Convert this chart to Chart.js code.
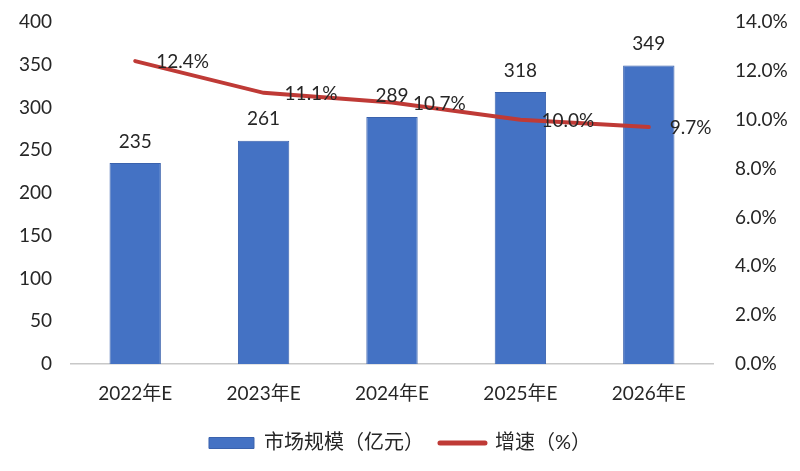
<!DOCTYPE html>
<html><head><meta charset="utf-8">
<script src="https://cdn.jsdelivr.net/npm/chart.js@4"></script>
<style>html,body{margin:0;padding:0;background:#fff}#wrap{width:800px;height:471px}</style>
</head><body><div id="wrap"><canvas id="c" width="800" height="471"></canvas></div>
<script>
const categories = ['2022年E','2023年E','2024年E','2025年E','2026年E'];
const marketSize = [235, 261, 289, 318, 349];
const growthRate = [12.4, 11.1, 10.7, 10.0, 9.7];
const leftTicks = [0,50,100,150,200,250,300,350,400];
const rightTicks = [0,2,4,6,8,10,12,14];

const FONT = "Lato, 'Noto Sans CJK SC', sans-serif";
const TXT = '#262626';

const labelPlugin = {
  id: 'labels',
  afterDatasetsDraw(chart) {
    const ctx = chart.ctx;
    ctx.save();
    ctx.font = '19px ' + FONT;
    ctx.fillStyle = TXT;
    const m0 = chart.getDatasetMeta(0);
    m0.data.forEach((el, i) => {
      ctx.textAlign = 'center'; ctx.textBaseline = 'bottom';
      ctx.fillText(String(marketSize[i]), el.x, el.y - 12);
    });
    const m1 = chart.getDatasetMeta(1);
    m1.data.forEach((el, i) => {
      ctx.textAlign = 'left'; ctx.textBaseline = 'middle';
      ctx.fillText(growthRate[i].toFixed(1) + '%', el.x + 21, el.y + 1);
    });
    ctx.restore();
  }
};

function noPad(s) { s.paddingTop = 0; s.paddingBottom = 0; }

new Chart(document.getElementById('c'), {
  data: {
    labels: categories,
    datasets: [
      { type: 'bar', label: '市场规模（亿元）', data: marketSize, yAxisID: 'y',
        backgroundColor: '#4472C4', borderColor: '#3A62AD', borderWidth: 1,
        barPercentage: 0.4, categoryPercentage: 1.0, order: 2 },
      { type: 'line', label: '增速（%）', data: growthRate, yAxisID: 'y1',
        borderColor: '#BF3A36', backgroundColor: '#BF3A36', borderWidth: 4,
        pointRadius: 0, tension: 0, order: 1, borderCapStyle: 'round' }
    ]
  },
  options: {
    responsive: false, animation: false,
    layout: { padding: { top: 22, bottom: 8, left: 0, right: 0 } },
    plugins: {
      tooltip: { enabled: false },
      legend: {
        position: 'bottom',
        labels: {
          font: { size: 20, family: FONT }, color: TXT, padding: 16,
          usePointStyle: true, pointStyleWidth: 45, boxHeight: 11,
          generateLabels(chart) {
            return chart.data.datasets.map((ds, i) => ds.type === 'line' ? ({
              text: ds.label, fillStyle: ds.borderColor, strokeStyle: ds.borderColor,
              lineWidth: 5, lineCap: 'round', pointStyle: 'line', datasetIndex: i, hidden: false, fontColor: TXT
            }) : ({
              text: ds.label, fillStyle: ds.backgroundColor, strokeStyle: ds.borderColor,
              lineWidth: 1, pointStyle: 'rect', datasetIndex: i, hidden: false, fontColor: TXT
            }));
          }
        }
      }
    },
    scales: {
      x: {
        grid: { display: false, drawTicks: false },
        border: { display: true, color: '#C8C8C8', width: 1.5 },
        ticks: { font: { size: 19, family: FONT }, color: TXT, padding: 18 },
        afterFit(s) { s.height = 53; s.paddingLeft = 0; s.paddingRight = 0; }
      },
      y: {
        position: 'left', min: 0, max: 400,
        grid: { display: false, drawTicks: false },
        border: { display: false },
        afterBuildTicks(s) { s.ticks = leftTicks.map(v => ({ value: v })); },
        ticks: { font: { size: 19, family: FONT }, color: TXT, padding: 19 },
        afterFit(s) { s.width = 71; noPad(s); }
      },
      y1: {
        position: 'right', min: 0, max: 14,
        grid: { display: false, drawTicks: false },
        border: { display: false },
        afterBuildTicks(s) { s.ticks = rightTicks.map(v => ({ value: v })); },
        ticks: { font: { size: 19, family: FONT }, color: TXT, padding: 22,
          callback: v => Number(v).toFixed(1) + '%' },
        afterFit(s) { s.width = 87; noPad(s); }
      }
    }
  },
  plugins: [labelPlugin]
});
</script>
</body></html>
